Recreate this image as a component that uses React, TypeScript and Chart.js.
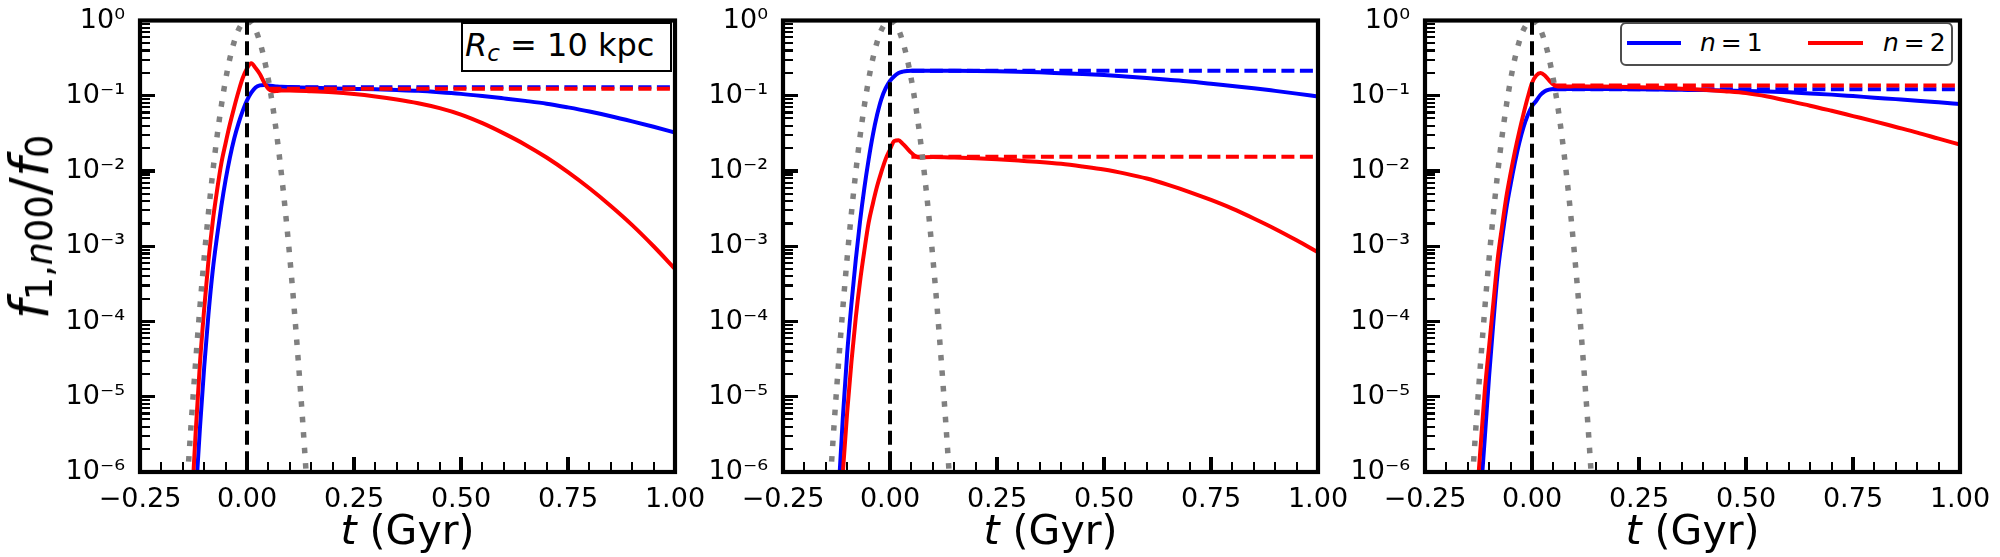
import { useEffect, useRef, useState } from "react";
import { Chart, registerables } from "chart.js";

Chart.register(...registerables);

const FONT = "'DejaVu Sans', sans-serif";

// time grid (Gyr) for the solid curves
const tGrid = [
  -0.13, -0.12, -0.11, -0.1, -0.09, -0.08, -0.07, -0.06, -0.05, -0.04, -0.03,
  -0.02, -0.01, 0, 0.01, 0.02, 0.03, 0.04, 0.05, 0.06, 0.07, 0.08, 0.1, 0.15,
  0.2, 0.25, 0.3, 0.35, 0.4, 0.45, 0.5, 0.55, 0.6, 0.65, 0.7, 0.75, 0.8, 0.85,
  0.9, 0.95, 1.0,
];

// panel 1 (R_c = 10 kpc)
const p1Blue = [
  5.0e-8, 4.5e-7, 3.8e-6, 2.5e-5, 1.26e-4, 4.8e-4, 1.35e-3, 3.4e-3, 7.6e-3,
  0.0151, 0.0269, 0.0427, 0.063, 0.087, 0.11, 0.129, 0.1374, 0.139, 0.137,
  0.135, 0.133, 0.1315, 0.1303, 0.128, 0.125, 0.1233, 0.1216, 0.1191, 0.1161,
  0.1114, 0.1059, 0.0993, 0.0923, 0.0855, 0.0785, 0.07, 0.0617, 0.0535,
  0.0457, 0.0387, 0.0324,
];
const p1Red = [
  3.0e-7, 3.3e-6, 2.75e-5, 1.48e-4, 6.5e-4, 2.14e-3, 5.5e-3, 0.0126, 0.0234,
  0.0417, 0.07, 0.113, 0.172, 0.231, 0.27, 0.234, 0.195, 0.151, 0.123, 0.115,
  0.116, 0.1175, 0.1175, 0.1148, 0.111, 0.1052, 0.0977, 0.0891, 0.0794,
  0.0684, 0.0562, 0.0432, 0.0316, 0.0224, 0.0151, 9.66e-3, 5.89e-3, 3.43e-3,
  1.91e-3, 1.0e-3, 5.0e-4,
];
// panel 2
const p2Blue = [
  5.0e-8, 5.6e-7, 5.5e-6, 3.8e-5, 1.74e-4, 6.6e-4, 2.14e-3, 5.9e-3, 0.0141,
  0.0302, 0.0562, 0.0912, 0.126, 0.158, 0.182, 0.2, 0.209, 0.214, 0.215, 0.215,
  0.215, 0.215, 0.2148, 0.2148, 0.2138, 0.2118, 0.2089, 0.2046, 0.1995,
  0.1945, 0.1884, 0.1803, 0.1718, 0.1633, 0.1549, 0.1445, 0.1349, 0.1259,
  0.1161, 0.1067, 0.0977,
];
const p2Red = [
  2.0e-8, 1.4e-7, 1.0e-6, 6.3e-6, 2.95e-5, 1.12e-4, 3.4e-4, 8.7e-4, 2.04e-3,
  3.7e-3, 6.3e-3, 9.8e-3, 0.0145, 0.0193, 0.0251, 0.0257, 0.0229, 0.02, 0.0174,
  0.0157, 0.0151, 0.0152, 0.0153, 0.0151, 0.0148, 0.01435, 0.0138, 0.0132,
  0.01245, 0.01148, 0.01047, 9.23e-3, 7.94e-3, 6.53e-3, 5.25e-3, 4.12e-3,
  3.16e-3, 2.34e-3, 1.7e-3, 1.2e-3, 8.3e-4,
];
// panel 3
const p3Blue = [
  6.3e-8, 4.7e-7, 3.0e-6, 1.95e-5, 1.02e-4, 4.5e-4, 1.26e-3, 3.16e-3, 6.6e-3,
  0.0129, 0.0234, 0.038, 0.055, 0.0724, 0.0859, 0.103, 0.115, 0.1208, 0.123,
  0.123, 0.123, 0.123, 0.123, 0.123, 0.1225, 0.1219, 0.1211, 0.12, 0.1189,
  0.1175, 0.1156, 0.1135, 0.1109, 0.1074, 0.1035, 0.0989, 0.0944, 0.0902,
  0.0861, 0.0818, 0.0776,
];
const p3Red = [
  3.8e-7, 2.2e-6, 1.26e-5, 4.8e-5, 1.82e-4, 6.9e-4, 1.82e-3, 4.5e-3, 9.3e-3,
  0.0181, 0.0329, 0.057, 0.0946, 0.148, 0.186, 0.2, 0.186, 0.16, 0.141, 0.133,
  0.1325, 0.1325, 0.1334, 0.1327, 0.1318, 0.13, 0.1274, 0.1242, 0.1202,
  0.1148, 0.1084, 0.0977, 0.0851, 0.0738, 0.0631, 0.0537, 0.0457, 0.0385,
  0.0324, 0.0269, 0.0224,
];

// asymptotic levels (dashed)
const dashT = [0.05, 1.0];
const blueLevels = [0.13, 0.215, 0.1216];
const redLevels = [0.124, 0.0155, 0.1365];

// gray dotted pulse, same in all panels
const pulseT = [
  -0.15, -0.14, -0.13, -0.12, -0.11, -0.1, -0.09, -0.08, -0.07, -0.06, -0.05,
  -0.04, -0.03, -0.02, -0.01, 0, 0.01, 0.02, 0.03, 0.04, 0.05, 0.06, 0.07,
  0.08, 0.09, 0.1, 0.11, 0.12, 0.13, 0.14, 0.15,
];
const pulseY = [
  8e-8, 6.7e-7, 4.8e-6, 2.9e-5, 1.55e-4, 7.1e-4, 2.8e-3, 9.6e-3, 0.0286,
  0.0735, 0.163, 0.313, 0.52, 0.748, 0.93, 1, 0.93, 0.748, 0.52, 0.313, 0.163,
  0.0735, 0.0286, 9.6e-3, 2.8e-3, 7.1e-4, 1.55e-4, 2.9e-5, 4.8e-6, 6.7e-7,
  8e-8,
];

const zeroT = [0, 0];
const zeroY = [1e-7, 10];

// ticks
const xMajorTicks = [-0.25, 0, 0.25, 0.5, 0.75, 1.0];
const xTickLabels = ["\u22120.25", "0.00", "0.25", "0.50", "0.75", "1.00"];
const xMinorTicks = [
  -0.2, -0.15, -0.1, -0.05, 0.05, 0.1, 0.15, 0.2, 0.3, 0.35, 0.4, 0.45, 0.55,
  0.6, 0.65, 0.7, 0.8, 0.85, 0.9, 0.95,
];
const yDecades = [1e-6, 1e-5, 1e-4, 1e-3, 1e-2, 1e-1, 1];
const yTickLabels = ["10⁻⁶", "10⁻⁵", "10⁻⁴", "10⁻³", "10⁻²", "10⁻¹", "10⁰"];
const yMinorMantissas = [2, 3, 4, 5, 6, 7, 8, 9];
const yMinorTicks = yDecades.slice(0, -1).flatMap((d) => yMinorMantissas.map((m) => m * d));

const panels = [
  { left: 0, blue: p1Blue, red: p1Red, blueDash: blueLevels[0], redDash: redLevels[0] },
  { left: 643, blue: p2Blue, red: p2Red, blueDash: blueLevels[1], redDash: redLevels[1] },
  { left: 1285, blue: p3Blue, red: p3Red, blueDash: blueLevels[2], redDash: redLevels[2] },
];

const pts = (xs: number[], ys: number[]) => xs.map((x, i) => ({ x, y: ys[i] }));

const framePlugin = {
  id: "frame",
  afterDraw(chart: any) {
    const { ctx, chartArea: a } = chart;
    ctx.save();
    ctx.setLineDash([]);
    ctx.strokeStyle = "#000";
    ctx.lineWidth = 4.2;
    ctx.strokeRect(a.left, a.top, a.right - a.left, a.bottom - a.top);
    ctx.restore();
  },
};

const tickFont = { family: FONT, size: 27 };

type TickMark = { x: number; y: number; w: number; h: number };

function Panel({ p }: { p: (typeof panels)[number] }) {
  const ref = useRef<HTMLCanvasElement>(null);
  const [marks, setMarks] = useState<TickMark[]>([]);

  useEffect(() => {
    const common = { pointRadius: 0 };
    const chart = new Chart(ref.current!, {
      type: "line",
      data: {
        datasets: [
          { ...common, data: pts(zeroT, zeroY), borderColor: "#000", borderWidth: 4, borderDash: [14, 6.5] },
          { ...common, data: pts(pulseT, pulseY), borderColor: "#808080", borderWidth: 5.5, borderDash: [5.5, 10], cubicInterpolationMode: "monotone" },
          { ...common, data: pts(dashT, [p.redDash, p.redDash]), borderColor: "#ff0000", borderWidth: 4, borderDash: [13, 5.5] },
          { ...common, data: pts(tGrid, p.red), borderColor: "#ff0000", borderWidth: 4, cubicInterpolationMode: "monotone" },
          { ...common, data: pts(dashT, [p.blueDash, p.blueDash]), borderColor: "#0000ff", borderWidth: 4, borderDash: [13, 5.5] },
          { ...common, data: pts(tGrid, p.blue), borderColor: "#0000ff", borderWidth: 4, cubicInterpolationMode: "monotone" },
        ] as any,
      },
      options: {
        animation: false,
        responsive: true,
        maintainAspectRatio: false,
        events: [],
        layout: { padding: { left: 0, right: 38, top: 17, bottom: 0 } },
        plugins: { legend: { display: false }, tooltip: { enabled: false } },
        scales: {
          x: {
            type: "linear",
            position: "bottom",
            min: -0.25,
            max: 1,
            afterBuildTicks: (s: any) => {
              s.ticks = xMajorTicks.map((value) => ({ value }));
            },
            afterFit: (s: any) => {
              s.height = 85;
            },
            ticks: {
              autoSkip: false,
              maxRotation: 0,
              padding: 4,
              color: "#000",
              font: tickFont,
              callback: (_v: any, i: number) => xTickLabels[i],
            },
            grid: { display: false },
            border: { display: false },
          },
          y: {
            type: "logarithmic",
            position: "left",
            min: 1e-6,
            max: 1,
            afterBuildTicks: (s: any) => {
              s.ticks = yDecades.map((value) => ({ value }));
            },
            afterFit: (s: any) => {
              s.width = 140;
            },
            ticks: {
              autoSkip: false,
              padding: 7,
              color: "#000",
              font: { ...tickFont, lineHeight: 1 },
              callback: (_v: any, i: number) => yTickLabels[i],
            },
            grid: { display: false },
            border: { display: false },
          },
        } as any,
      },
      plugins: [framePlugin],
    });

    // inward tick marks, positioned with the chart's own scales
    const a = chart.chartArea;
    const sx: any = chart.scales.x;
    const sy: any = chart.scales.y;
    const xMark = (v: number, len: number, w: number) => ({ x: sx.getPixelForValue(v) - w / 2, y: a.bottom - len, w, h: len });
    const yMark = (v: number, len: number, w: number) => ({ x: a.left, y: sy.getPixelForValue(v) - w / 2, w: len, h: w });
    setMarks([
      ...xMinorTicks.map((v) => xMark(v, 10, 2.2)),
      ...xMajorTicks.map((v) => xMark(v, 15, 3.2)),
      ...yMinorTicks.map((v) => yMark(v, 10, 2.2)),
      ...yDecades.map((v) => yMark(v, 15, 3.2)),
    ]);

    return () => {
      chart.destroy();
    };
  }, []);

  return (
    <div style={{ position: "absolute", left: p.left, top: 0, width: 713, height: 557 }}>
      <canvas ref={ref} />
      {marks.map((m, i) => (
        <div
          key={i}
          style={{ position: "absolute", left: m.x, top: m.y, width: m.w, height: m.h, background: "#000" }}
        />
      ))}
    </div>
  );
}

const sub = (size: string, drop: string) => ({ fontSize: size, verticalAlign: drop, lineHeight: 0 });

export default function App() {
  const centers = [407.5, 1050.5, 1692.5];
  return (
    <div
      style={{
        position: "absolute",
        left: 0,
        top: 0,
        width: 2000,
        height: 557,
        background: "#fff",
        fontFamily: FONT,
      }}
    >
      {panels.map((p, i) => (
        <Panel key={i} p={p} />
      ))}

      {centers.map((cx, i) => (
        <div
          key={i}
          style={{
            position: "absolute",
            left: cx - 150,
            width: 300,
            top: 510,
            textAlign: "center",
            fontSize: 41,
            lineHeight: "41px",
            whiteSpace: "nowrap",
          }}
        >
          <i>t</i> (Gyr)
        </div>
      ))}

      <div
        style={{
          position: "absolute",
          left: 30,
          top: 227,
          transform: "translate(-50%, -50%) rotate(-90deg)",
          fontSize: 54,
          lineHeight: "54px",
          whiteSpace: "nowrap",
        }}
      >
        <i>f</i>
        <span style={sub("0.68em", "-0.1em")}>
          1,<i>n</i>00
        </span>
        /<i>f</i>
        <span style={sub("0.68em", "-0.1em")}>0</span>
      </div>

      <div
        style={{
          position: "absolute",
          left: 461,
          top: 22,
          width: 211,
          height: 50,
          boxSizing: "border-box",
          border: "2.5px solid #000",
          background: "#fff",
        }}
      >
        <span
          style={{
            position: "absolute",
            left: 2,
            top: 5,
            fontSize: 32,
            lineHeight: "32px",
            whiteSpace: "nowrap",
          }}
        >
          <i>R</i>
          <i style={sub("0.72em", "-0.22em")}>c</i> = 10 kpc
        </span>
      </div>

      <div
        style={{
          position: "absolute",
          left: 1620,
          top: 22,
          width: 333,
          height: 44,
          boxSizing: "border-box",
          border: "2px solid #4d4d4d",
          borderRadius: 6,
          background: "#fff",
        }}
      >
        <div style={{ position: "absolute", left: 5, top: 17, width: 54, height: 4, background: "#0000ff" }} />
        <span style={{ position: "absolute", left: 78, top: 6, fontSize: 25, lineHeight: "25px", whiteSpace: "nowrap" }}>
          <i>n</i>{"\u2009=\u20091"}
        </span>
        <div style={{ position: "absolute", left: 186, top: 17, width: 55, height: 4, background: "#ff0000" }} />
        <span style={{ position: "absolute", left: 261, top: 6, fontSize: 25, lineHeight: "25px", whiteSpace: "nowrap" }}>
          <i>n</i>{"\u2009=\u20092"}
        </span>
      </div>
    </div>
  );
}
